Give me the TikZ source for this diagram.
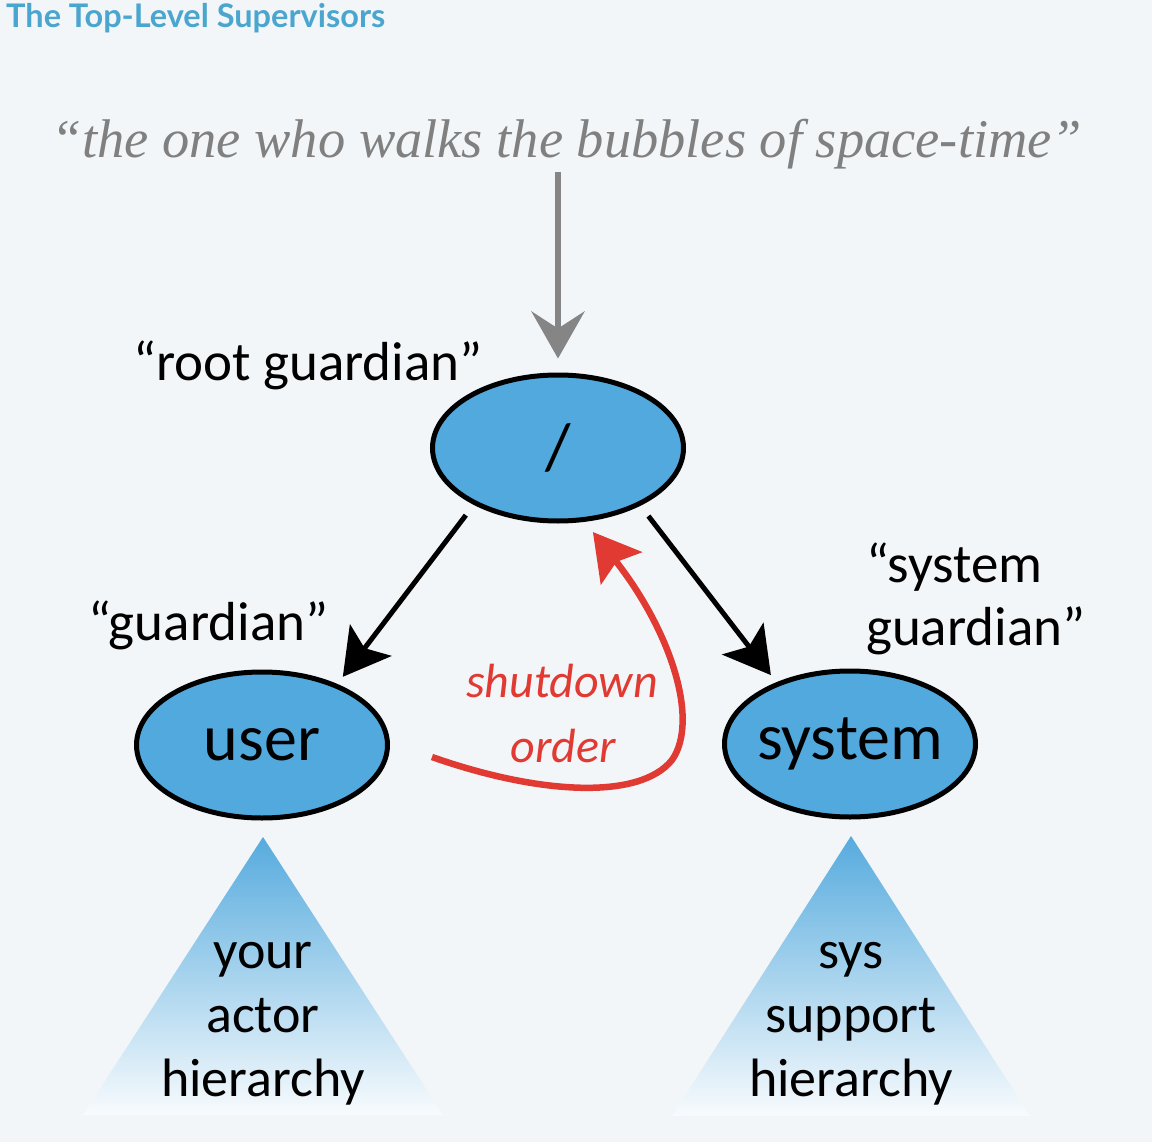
\documentclass[tikz,border=0pt]{standalone}
\usepackage{fontspec}
\setmainfont{Carlito}
\newfontfamily\titlefont{Lato}
\newfontfamily\quotefont{Liberation Serif}
\usetikzlibrary{arrows.meta,shapes.geometric}
\definecolor{bg}{HTML}{F3F6F8}
\definecolor{titleblue}{HTML}{4BA6CF}
\definecolor{actorblue}{HTML}{52A9DD}
\definecolor{quotegray}{HTML}{808080}
\definecolor{arrowgray}{HTML}{858585}
\definecolor{shutred}{HTML}{E03A33}
\definecolor{tritop}{HTML}{56ABDE}
\definecolor{tribot}{HTML}{F8FBFD}
\begin{document}
\begin{tikzpicture}[x=1pt,y=-1pt,
  actor/.style={ellipse,draw=black,line width=5pt,fill=actorblue,
    minimum width=251pt,minimum height=146pt,inner sep=0pt,
    font=\fontsize{66}{70}\selectfont},
  lbl/.style={anchor=base west,inner sep=0pt,font=\fontsize{55}{60}\selectfont},
  tritext/.style={anchor=base,inner sep=0pt,font=\fontsize{54}{60}\selectfont},
  tri/.style={top color=tritop,bottom color=tribot},
  supervise/.style={line width=5pt,-{Stealth[length=46pt,width=52pt,inset=10pt]}},
  shutdown/.style={line width=6.5pt,draw=shutred,-{Stealth[length=46pt,width=52pt,inset=8pt]}},
]
\fill[bg] (0,0) rectangle (1152,1142);
\useasboundingbox (0,0) rectangle (1152,1142);

% title
\node[anchor=base west,inner sep=0pt,text=titleblue,font=\titlefont\bfseries\fontsize{32.5}{34}\selectfont] (title) at (6,28) {The Top-Level Supervisors};

% quote
\node[anchor=base,inner sep=0pt,text=quotegray] (quote) at (567,158)
  {\resizebox{1030pt}{!}{\quotefont\itshape \char"201C the one who walks the bubbles of space-time\char"201D}};

% actors
\node[actor] (root) at (558,448) {\makebox[0pt]{/}};
\node[actor] (user) at (262,745) {\makebox[0pt]{user}};
\node[actor] (system) at (850,744) {\makebox[0pt]{system}};

% labels
\node[lbl] (rootlbl) at (133,380) {“root guardian”};
\node[lbl] (userlbl) at (88,640) {“guardian”};
\node[lbl] (syslbl1) at (866,582) {“system};
\node[lbl] (syslbl2) at (866,645) {guardian”};

% triangles
\shade[tri] (263,837) -- (83,1115) -- (443,1115) -- cycle;
\shade[tri] (851,836) -- (672,1116) -- (1030,1116) -- cycle;
\node[tritext] (ut1) at (263,968) {your};
\node[tritext] (ut2) at (263,1032) {actor};
\node[tritext] (ut3) at (263,1096) {hierarchy};
\node[tritext] (st1) at (851,968) {sys};
\node[tritext] (st2) at (851,1032) {support};
\node[tritext] (st3) at (851,1096) {hierarchy};

% gray arrow from quote to root
\coordinate (qfoot) at (558,172);
\draw[arrowgray,line width=6.5pt,-{Stealth[length=47pt,width=53pt,inset=17pt]},shorten >=14pt] (qfoot) -- (root.north);

% supervision arrows
\draw[supervise,shorten <=13pt,shorten >=9pt] (root.214.5) -- (user.39.6);
\draw[supervise,shorten <=13pt,shorten >=9pt] (root.325.5) -- (system.140.2);

% shutdown order
\coordinate (sdstart) at (432,757);
\draw[shutdown,shorten >=13pt] (sdstart) .. controls (540,795) and (640,800) .. (672,760)
   .. controls (700,720) and (670,630) .. (root.-70);
\node[anchor=base,inner sep=0pt,text=shutred,font=\itshape\fontsize{48}{52}\selectfont] (sd1) at (562,697) {shutdown};
\node[anchor=base,inner sep=0pt,text=shutred,font=\itshape\fontsize{48}{52}\selectfont] (sd2) at (563,762) {order};
\end{tikzpicture}
\end{document}
